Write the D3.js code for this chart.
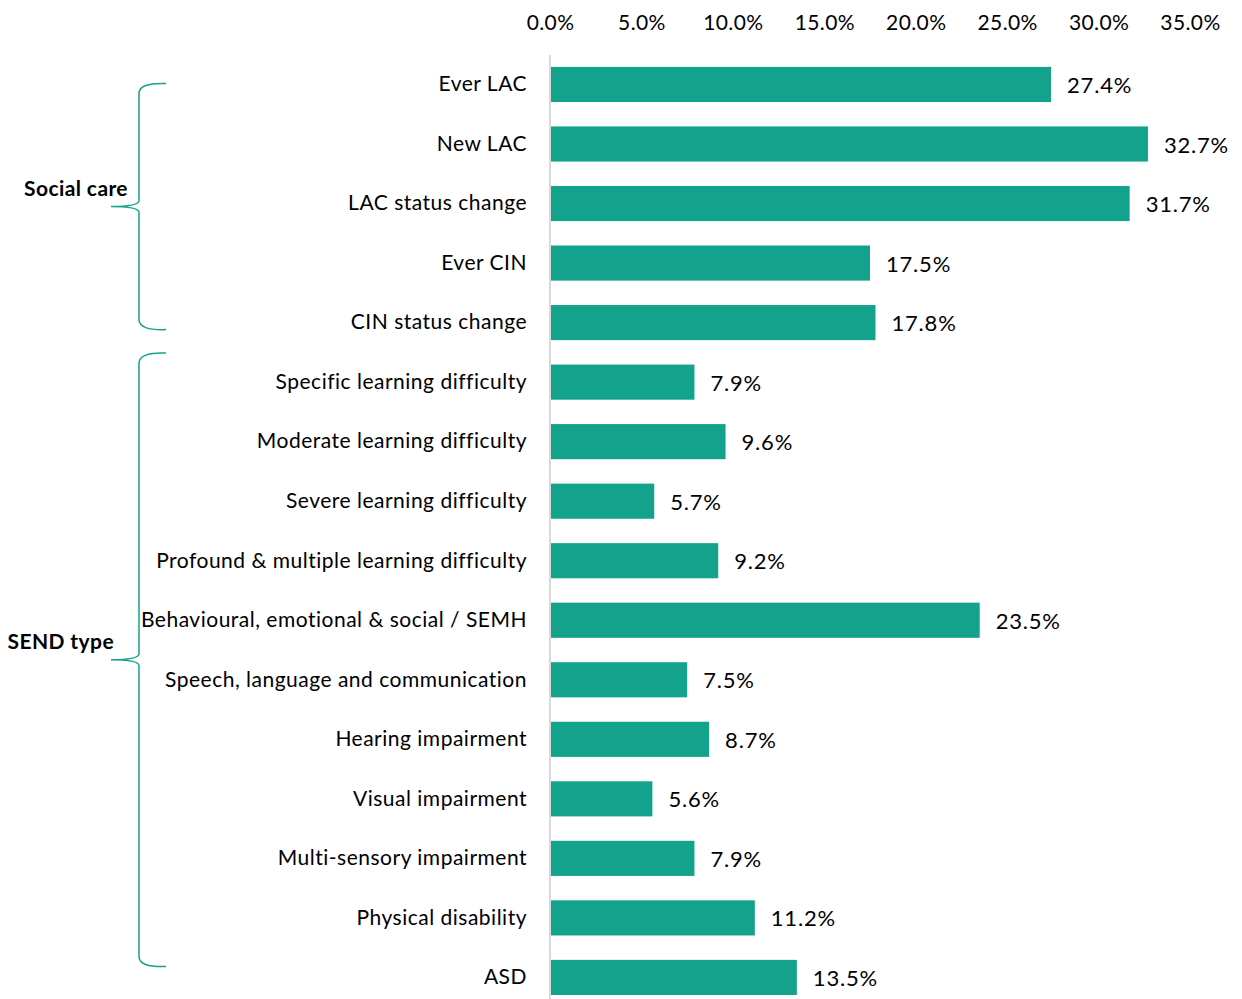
<!DOCTYPE html>
<html>
<head>
<meta charset="utf-8">
<script src="https://cdn.jsdelivr.net/npm/d3@7"></script>
<style>
  html, body { margin: 0; padding: 0; background: #fff; }
  svg text { font-family: Lato, "Open Sans", sans-serif; fill: #000; }
</style>
</head>
<body>
<svg id="chart" width="1242" height="999"></svg>
<script>
// Share of pupils by social care status and SEND type
const categories = [
  "Ever LAC", "New LAC", "LAC status change", "Ever CIN", "CIN status change",
  "Specific learning difficulty", "Moderate learning difficulty", "Severe learning difficulty",
  "Profound & multiple learning difficulty", "Behavioural, emotional & social / SEMH",
  "Speech, language and communication", "Hearing impairment", "Visual impairment",
  "Multi-sensory impairment", "Physical disability", "ASD"
];
const values = [27.4, 32.7, 31.7, 17.5, 17.8, 7.9, 9.6, 5.7, 9.2, 23.5, 7.5, 8.7, 5.6, 7.9, 11.2, 13.5];
const tickValues = [0, 5, 10, 15, 20, 25, 30, 35];
const groupNames = ["Social care", "SEND type"];
const groupFirst = ["Ever LAC", "Specific learning difficulty"];
const groupLast = ["CIN status change", "ASD"];

const barColor = "#13a28b";
const svg = d3.select("#chart");

const x = d3.scaleLinear().domain([0, 35]).range([550, 1190]);
const y = d3.scaleBand().domain(categories).range([54.7, 1007.2]).paddingInner(0.41).paddingOuter(0.205);

// top axis with percentage labels
const axis = d3.axisTop(x).tickValues(tickValues).tickSize(0).tickPadding(0)
  .tickFormat(d => d.toFixed(1) + "%");
svg.append("g").attr("transform", "translate(0,30)").call(axis)
  .call(g => g.select(".domain").remove())
  .selectAll("text").attr("font-size", 21).attr("letter-spacing", 0.4)
  .attr("font-family", "Lato, sans-serif").attr("fill", "#000");

// vertical baseline
svg.append("line").attr("x1", x(0)).attr("x2", x(0)).attr("y1", 55).attr("y2", 999)
  .attr("stroke", "#d9d9d9").attr("stroke-width", 2);

// bars
svg.append("g").selectAll("rect").data(categories).join("rect")
  .attr("x", x(0) + 1)
  .attr("y", d => y(d))
  .attr("width", (d, i) => x(values[i]) - x(0) - 1)
  .attr("height", y.bandwidth())
  .attr("fill", barColor);

// value labels
svg.append("g").selectAll("text").data(categories).join("text")
  .attr("x", (d, i) => x(values[i]) + 16)
  .attr("y", d => y(d) + y.bandwidth() / 2 + 3)
  .attr("dominant-baseline", "middle")
  .attr("font-size", 22)
  .attr("letter-spacing", 0.8)
  .text((d, i) => values[i].toFixed(1) + "%");

// category labels
svg.append("g").selectAll("text").data(categories).join("text")
  .attr("x", 527)
  .attr("y", d => y(d) + y.bandwidth() / 2 + 1.5)
  .attr("dominant-baseline", "middle")
  .attr("text-anchor", "end")
  .attr("font-size", 21)
  .attr("letter-spacing", 0.5)
  .text(d => d);

// curly brackets for the two groups
const center = d => y(d) + y.bandwidth() / 2;
const bracketSpans = [
  [center(groupFirst[0]) - 1, center(groupLast[0]) + 7],
  [center(groupFirst[1]) - 29, center(groupLast[1]) - 11]
];
const labelRight = [128, 114];
const bx = 139, tipX = 111, endX = 166, r = 10;
bracketSpans.forEach(([top, bottom], i) => {
  const mid = (top + bottom) / 2;
  const p = d3.path();
  p.moveTo(endX, top);
  p.quadraticCurveTo(bx, top - 1, bx, top + r);
  p.lineTo(bx, mid - 6);
  p.quadraticCurveTo(bx, mid, tipX, mid);
  p.quadraticCurveTo(bx, mid, bx, mid + 6);
  p.lineTo(bx, bottom - r);
  p.quadraticCurveTo(bx, bottom + 1, endX, bottom);
  svg.append("path").attr("d", p.toString()).attr("fill", "none")
    .attr("stroke", barColor).attr("stroke-width", 1.5);
  svg.append("text").attr("x", labelRight[i]).attr("y", mid - 16)
    .attr("text-anchor", "end").attr("dominant-baseline", "middle")
    .attr("font-size", 21).attr("font-weight", "bold").attr("letter-spacing", 0.4)
    .text(groupNames[i]);
});
</script>
</body>
</html>
